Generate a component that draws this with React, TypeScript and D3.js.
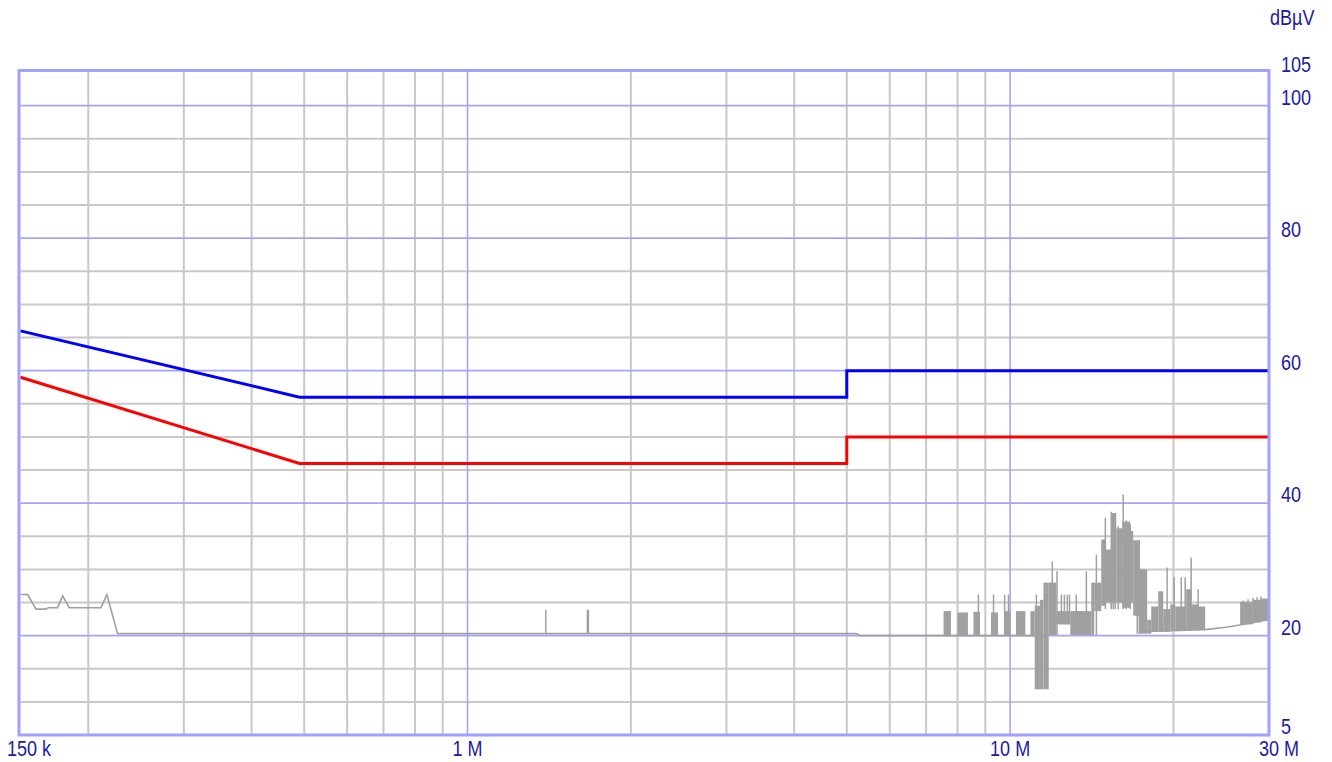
import React from 'react';
import * as d3 from 'd3';

// frequency in MHz, level in dBµV
const xMinorTicks = [0.2, 0.3, 0.4, 0.5, 0.6, 0.7, 0.8, 0.9, 2, 3, 4, 5, 6, 7, 8, 9, 20];
const xMajorTicks = [1, 10];
const yMinorTicks = [10, 15, 25, 30, 35, 45, 50, 55, 65, 70, 75, 85, 90, 95];
const yMajorTicks = [20, 40, 60, 80, 100];
const yLabels = [105, 100, 80, 60, 40, 20, 5];
const xLabels = [
  { f: 0.15, text: '150 k', anchor: 'start' },
  { f: 1, text: '1 M', anchor: 'middle' },
  { f: 10, text: '10 M', anchor: 'middle' },
  { f: 30, text: '30 M', anchor: 'end' },
];

// limit lines
const limitQP: [number, number][] = [[0.15, 66], [0.49, 56], [5, 56], [5, 60], [30, 60]];
const limitAV: [number, number][] = [[0.15, 59], [0.49, 46], [5, 46], [5, 50], [30, 50]];

// measured trace, low frequency part
const traceLow: [number, number][] = [
  [0.15, 26.2], [0.1546, 26.2], [0.1602, 24.0], [0.1671, 24.0], [0.1688, 24.2], [0.1756, 24.2],
  [0.1794, 26.0], [0.1845, 24.2], [0.211, 24.2], [0.2164, 26.2], [0.2265, 20.3],
  [5.2, 20.3], [5.3, 20.0], [11.8, 20.0],
];
const traceTail: [number, number][] = [
  [17.3, 20.3], [17.4, 20.6], [21.1, 20.8], [22.9, 20.9], [25.2, 21.3], [26.5, 21.6], [30, 22.4],
];

// dense noise blocks: [fStart, fEnd, low, high]
const noiseBlocks: [number, number, number, number][] = [
  [7.54, 7.78, 20.0, 23.7], [8.0, 8.36, 20.0, 23.5], [8.56, 8.8, 20.0, 23.6],
  [9.22, 9.5, 20.0, 23.5], [9.76, 10.02, 20.0, 23.7], [10.25, 10.67, 20.0, 23.7],
  [10.9, 11.1, 20.0, 23.7], [11.1, 11.35, 11.9, 24.5], [11.35, 11.52, 11.9, 25.4],
  [11.52, 11.78, 11.9, 28.0], [11.78, 12.17, 20.1, 28.0], [12.17, 12.91, 21.7, 23.7],
  [12.91, 14.11, 20.1, 23.7], [14.11, 14.29, 20.1, 28.0], [14.29, 14.72, 23.7, 28.0],
  [14.72, 14.98, 24.5, 34.5], [14.98, 15.36, 25.0, 33.0], [15.36, 15.69, 25.0, 38.5],
  [15.69, 16.09, 25.0, 36.2], [16.09, 16.65, 24.2, 37.2], [16.65, 16.86, 25.0, 35.8],
  [16.86, 17.3, 23.0, 34.4], [17.3, 17.89, 20.3, 30.0], [17.89, 18.2, 20.3, 22.4],
  [18.2, 18.75, 20.6, 24.4], [18.75, 19.15, 20.6, 26.7],
  [19.15, 19.73, 20.6, 24.0], [19.73, 20.15, 20.8, 24.7], [20.15, 21.11, 20.8, 24.4],
  [21.11, 21.56, 20.8, 27.0], [21.56, 22.21, 20.9, 24.7], [22.21, 22.88, 20.9, 24.4],
  [26.54, 28.0, 21.7, 25.1], [28.0, 29.0, 22.0, 25.4], [29.0, 30.0, 22.3, 25.6],
];

// single spikes: [f, low, high]
const spikes: [number, number, number][] = [
  [1.394, 20.3, 23.9], [1.663, 20.3, 23.9], [1.67, 20.3, 23.9],
  [8.74, 20, 26.2], [9.32, 20, 26.2], [9.77, 20, 26.2], [9.93, 20, 26.2], [11.18, 20, 26.2],
  [11.96, 20.1, 31.2], [12.2, 20.1, 29.7], [12.43, 21.7, 26.2], [12.59, 21.7, 26.2],
  [12.75, 21.7, 26.2], [12.87, 21.7, 26.2], [13.24, 21.7, 26.2], [13.82, 21.7, 29.7],
  [14.42, 20.1, 32.2], [14.98, 24, 37.8], [15.36, 24, 38.7], [15.49, 24, 38.5],
  [15.62, 24, 37.4], [15.82, 24, 36.5], [16.16, 24, 41.3], [16.37, 24, 37.4],
  [16.65, 24, 36.8], [17.15, 20.3, 34.3], [17.3, 20.3, 34.4], [17.82, 20.6, 30.0],
  [19.47, 20.6, 30.3], [20.06, 20.8, 28.8], [20.67, 20.8, 28.8], [21.02, 20.8, 28.8],
  [21.56, 20.8, 31.8], [22.21, 20.9, 27.0], [26.87, 21.7, 25.3], [27.45, 21.8, 25.5],
  [28.04, 22.0, 25.7], [28.52, 22.1, 25.8], [29.0, 22.2, 25.9],
];

const W = 1332;
const H = 762;
const labelColor = '#1c1ca0';
const font = '"Liberation Sans", Arial, sans-serif';

const x = d3.scaleLog().domain([0.15, 30]).range([20.5, 1269]);
const y = d3.scaleLinear().domain([5, 105]).range([735, 72.5]);

const line = d3.line<[number, number]>().x(d => x(d[0])).y(d => y(d[1]));

const Label = ({ px, py, text, anchor }: { px: number; py: number; text: string; anchor: string }) => (
  <text
    transform={`translate(${px},${py}) scale(0.82,1)`}
    textAnchor={anchor}
    fontFamily={font}
    fontSize={22}
    fill={labelColor}
  >
    {text}
  </text>
);

export default function App() {
  const [x0, x1] = x.range();
  const top = 70.5;
  const bottom = y(5);
  return (
    <svg width={W} height={H} style={{ position: 'absolute', left: 0, top: 0, background: '#fff' }}>
      {/* minor grid */}
      <g stroke="#c8c8c8" strokeWidth={2}>
        {xMinorTicks.map(f => (
          <line key={'xm' + f} x1={x(f)} x2={x(f)} y1={top} y2={bottom} />
        ))}
        {yMinorTicks.map(v => (
          <line key={'ym' + v} x1={x0} x2={x1} y1={y(v)} y2={y(v)} />
        ))}
      </g>
      {/* major grid */}
      <g stroke="#a4a4ff" strokeWidth={1.6}>
        {xMajorTicks.map(f => (
          <line key={'xM' + f} x1={x(f)} x2={x(f)} y1={top} y2={bottom} />
        ))}
        {yMajorTicks.map(v => (
          <line key={'yM' + v} x1={x0} x2={x1} y1={y(v)} y2={y(v)} />
        ))}
      </g>

      {/* measurement trace */}
      <g>
        <path d={line(traceLow) || ''} fill="none" stroke="#a0a0a0" strokeWidth={1.6} />
        <path d={line(traceTail) || ''} fill="none" stroke="#a0a0a0" strokeWidth={1.6} />
        {noiseBlocks.map((b, i) => (
          <rect
            key={'nb' + i}
            x={x(b[0])}
            width={Math.max(1, x(b[1]) - x(b[0]))}
            y={y(b[3])}
            height={Math.max(1, y(b[2]) - y(b[3]))}
            fill="#a0a0a0"
          />
        ))}
        {spikes.map((s, i) => (
          <line
            key={'sp' + i}
            x1={x(s[0])}
            x2={x(s[0])}
            y1={y(s[1])}
            y2={y(s[2])}
            stroke="#a0a0a0"
            strokeWidth={1.5}
          />
        ))}
      </g>

      {/* limits */}
      <path d={line(limitQP) || ''} fill="none" stroke="#0000ff" strokeWidth={3} />
      <path d={line(limitAV) || ''} fill="none" stroke="#ff0000" strokeWidth={3} />

      {/* frame */}
      <rect x={x0 - 1.5} y={top} width={x1 - x0 + 1.5} height={bottom - top} fill="none" stroke="#a0a0ff" strokeWidth={3} />

      {/* labels */}
      <Label px={1270} py={25} text="dBµV" anchor="start" />
      {yLabels.map(v => (
        <Label key={'yl' + v} px={1281} py={y(v) - 1} text={String(v)} anchor="start" />
      ))}
      {xLabels.map(l => (
        <Label
          key={'xl' + l.text}
          px={l.anchor === 'start' ? 7 : l.anchor === 'end' ? 1299 : x(l.f)}
          py={756}
          text={l.text}
          anchor={l.anchor}
        />
      ))}
    </svg>
  );
}
